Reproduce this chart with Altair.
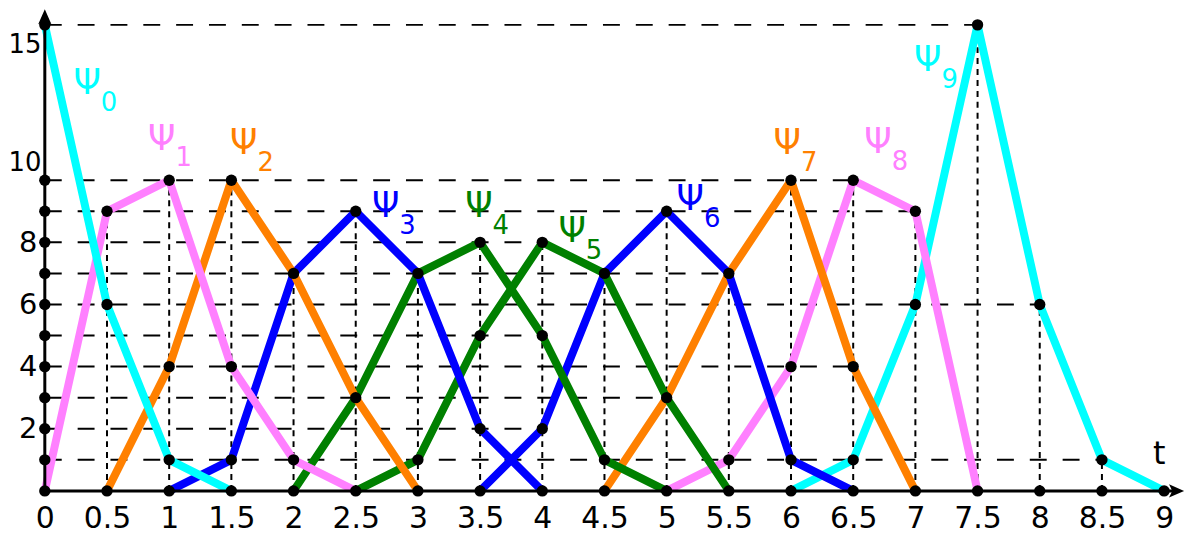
import altair as alt
import pandas as pd

# ---------------- data ----------------
names = ["0", "1", "2", "3", "4", "5", "6", "7", "8", "9"]
colors = ["#00FFFF", "#FF80FF", "#FF8000", "#0000FF", "#008000",
          "#008000", "#0000FF", "#FF8000", "#FF80FF", "#00FFFF"]

psi_t = [
    [0, 0.5, 1, 1.5],
    [0, 0.5, 1, 1.5, 2, 2.5],
    [0.5, 1, 1.5, 2, 2.5, 3],
    [1, 1.5, 2, 2.5, 3, 3.5, 4],
    [2, 2.5, 3, 3.5, 4, 4.5, 5],
    [2.5, 3, 3.5, 4, 4.5, 5, 5.5],
    [3.5, 4, 4.5, 5, 5.5, 6, 6.5],
    [4.5, 5, 5.5, 6, 6.5, 7],
    [5, 5.5, 6, 6.5, 7, 7.5],
    [6, 6.5, 7, 7.5, 8, 8.5, 9],
]
psi_v = [
    [15, 6, 1, 0],
    [0, 9, 10, 4, 1, 0],
    [0, 4, 10, 7, 3, 0],
    [0, 1, 7, 9, 7, 2, 0],
    [0, 3, 7, 8, 5, 1, 0],
    [0, 1, 5, 8, 7, 3, 0],
    [0, 2, 7, 9, 7, 1, 0],
    [0, 3, 7, 10, 4, 0],
    [0, 1, 4, 10, 9, 0],
    [0, 1, 6, 15, 6, 1, 0],
]

# label anchors (data coordinates)
label_t = [0.34, 0.94, 1.60, 2.74, 3.49, 4.24, 5.19, 5.97, 6.70, 7.10]
label_v = [13.13, 11.34, 11.18, 9.16, 9.16, 8.36, 9.38, 11.18, 11.24, 13.86]

x_ticks = [i * 0.5 for i in range(19)]
y_ticks = [2, 4, 6, 8, 10, 15]
y_axis_dots = [0, 1, 2, 3, 4, 5, 6, 7, 8, 9, 10, 15]

X_MAX = 9.16
Y_MAX = 15.5
FONT = "DejaVu Sans"

# ---------------- tables ----------------
rows = []
for i, (ts, vs) in enumerate(zip(psi_t, psi_v)):
    for t, v in zip(ts, vs):
        rows.append({"k": i, "t": t, "v": v})
lines_df = pd.DataFrame(rows)

pts = set((r["t"], r["v"]) for r in rows)
pts |= set((0, y) for y in y_axis_dots)
pts |= set((t, 0) for t in x_ticks)
dots_df = pd.DataFrame(sorted(pts), columns=["t", "v"])

# horizontal dashed guides: from axis to last point at that level
hlev = {}
for t, v in pts:
    if v > 0:
        hlev[v] = max(hlev.get(v, 0), t)
h_df = pd.DataFrame([{"v": v, "t0": 0, "t1": t} for v, t in hlev.items() if t > 0])

# vertical dashed guides: from axis to highest point at that t
vtop = {}
for t, v in pts:
    if t > 0:
        vtop[t] = max(vtop.get(t, 0), v)
v_df = pd.DataFrame([{"t": t, "v0": 0, "v1": v} for t, v in vtop.items() if v > 0])

lab_df = pd.DataFrame({"t": label_t, "v": label_v, "n": names, "c": colors})

# ---------------- encodings ----------------
xs = alt.Scale(domain=[0, X_MAX], nice=False, zero=False)
ys = alt.Scale(domain=[0, Y_MAX], nice=False, zero=False)
xaxis = alt.Axis(values=x_ticks, format="~g", title=None, domain=False, ticks=False,
                 grid=False, labelFontSize=30, labelFont=FONT, labelColor="black",
                 labelPadding=13, labelAngle=0, labelFlush=False, labelOverlap=False,
                 labelBound=False)
yaxis = alt.Axis(values=y_ticks, title=None, domain=False, ticks=False, grid=False,
                 labelFont=FONT, labelColor="black",
                 labelFontSize={"condition": {"test": "datum.value >= 10", "value": 26},
                                "value": 29},
                 labelPadding={"condition": {"test": "datum.value >= 10", "value": 4},
                               "value": 8},
                 labelFlush=False, labelOverlap=False, labelBound=False,
                 labelOffset={"condition": [{"test": "datum.value == 10", "value": -18},
                                            {"test": "datum.value == 15", "value": 20}],
                              "value": 0})


def X(f):
    return alt.X(f, type="quantitative", scale=xs, axis=xaxis)


def Y(f):
    return alt.Y(f, type="quantitative", scale=ys, axis=yaxis)


base = alt.Chart(lines_df)

hdash = alt.Chart(h_df).mark_rule(color="black", strokeWidth=2, strokeDash=[17, 16]).encode(
    x=X("t0"), x2="t1", y=Y("v"))
vdash = alt.Chart(v_df).mark_rule(color="black", strokeWidth=2, strokeDash=[6, 5]).encode(
    x=X("t"), y=Y("v0"), y2="v1")

line_layers = []
for i in reversed(range(10)):
    line_layers.append(
        base.transform_filter(f"datum.k == {i}")
        .mark_line(color=colors[i], strokeWidth=8, strokeJoin="round", strokeCap="butt")
        .encode(x=X("t"), y=Y("v"), order="t:Q")
    )

axes_df = pd.DataFrame({"t0": [0, 0], "t1": [0, X_MAX - 0.08], "v0": [0, 0], "v1": [Y_MAX - 0.3, 0]})
axes = alt.Chart(axes_df).mark_rule(color="black", strokeWidth=3).encode(
    x=X("t0"), x2="t1", y=Y("v0"), y2="v1")

arrow_up = alt.Chart(pd.DataFrame({"t": [0], "v": [Y_MAX - 0.3]})).mark_point(
    shape="M0,-1 L0.7,0.6 L0,0.25 L-0.7,0.6 Z", filled=True, color="black", opacity=1, size=360
).encode(x=X("t"), y=Y("v"))
arrow_right = alt.Chart(pd.DataFrame({"t": [X_MAX - 0.075], "v": [0]})).mark_point(
    shape="M1,0 L-0.6,0.7 L-0.25,0 L-0.6,-0.7 Z", filled=True, color="black", opacity=1, size=360
).encode(x=X("t"), y=Y("v"))

dots = alt.Chart(dots_df).mark_circle(color="black", opacity=1, size=130).encode(
    x=X("t"), y=Y("v"))

psi = alt.Chart(lab_df).mark_text(text="Ψ", font=FONT, fontSize=35, align="center",
                                  baseline="middle").encode(
    x=X("t"), y=Y("v"), color=alt.Color("c:N", scale=None))
sub = alt.Chart(lab_df).mark_text(font=FONT, fontSize=26, align="center", baseline="middle",
                                  dx=22, dy=20).encode(
    x=X("t"), y=Y("v"), text="n:N", color=alt.Color("c:N", scale=None))

tlab = alt.Chart(pd.DataFrame({"t": [8.96], "v": [1.18], "s": ["t"]})).mark_text(
    font=FONT, fontSize=32, color="black", align="center", baseline="middle").encode(
    x=X("t"), y=Y("v"), text="s:N")

chart = alt.layer(hdash, vdash, *line_layers, axes, arrow_up, arrow_right, dots, psi, sub, tlab).properties(
    width=1145, height=484,
    autosize=alt.AutoSizeParams(type="none"),
    padding={"left": 37, "top": 0, "right": 3, "bottom": 45},
).configure_view(stroke=None)

chart.save("out.html", embed_options={"renderer": "svg", "actions": False})
